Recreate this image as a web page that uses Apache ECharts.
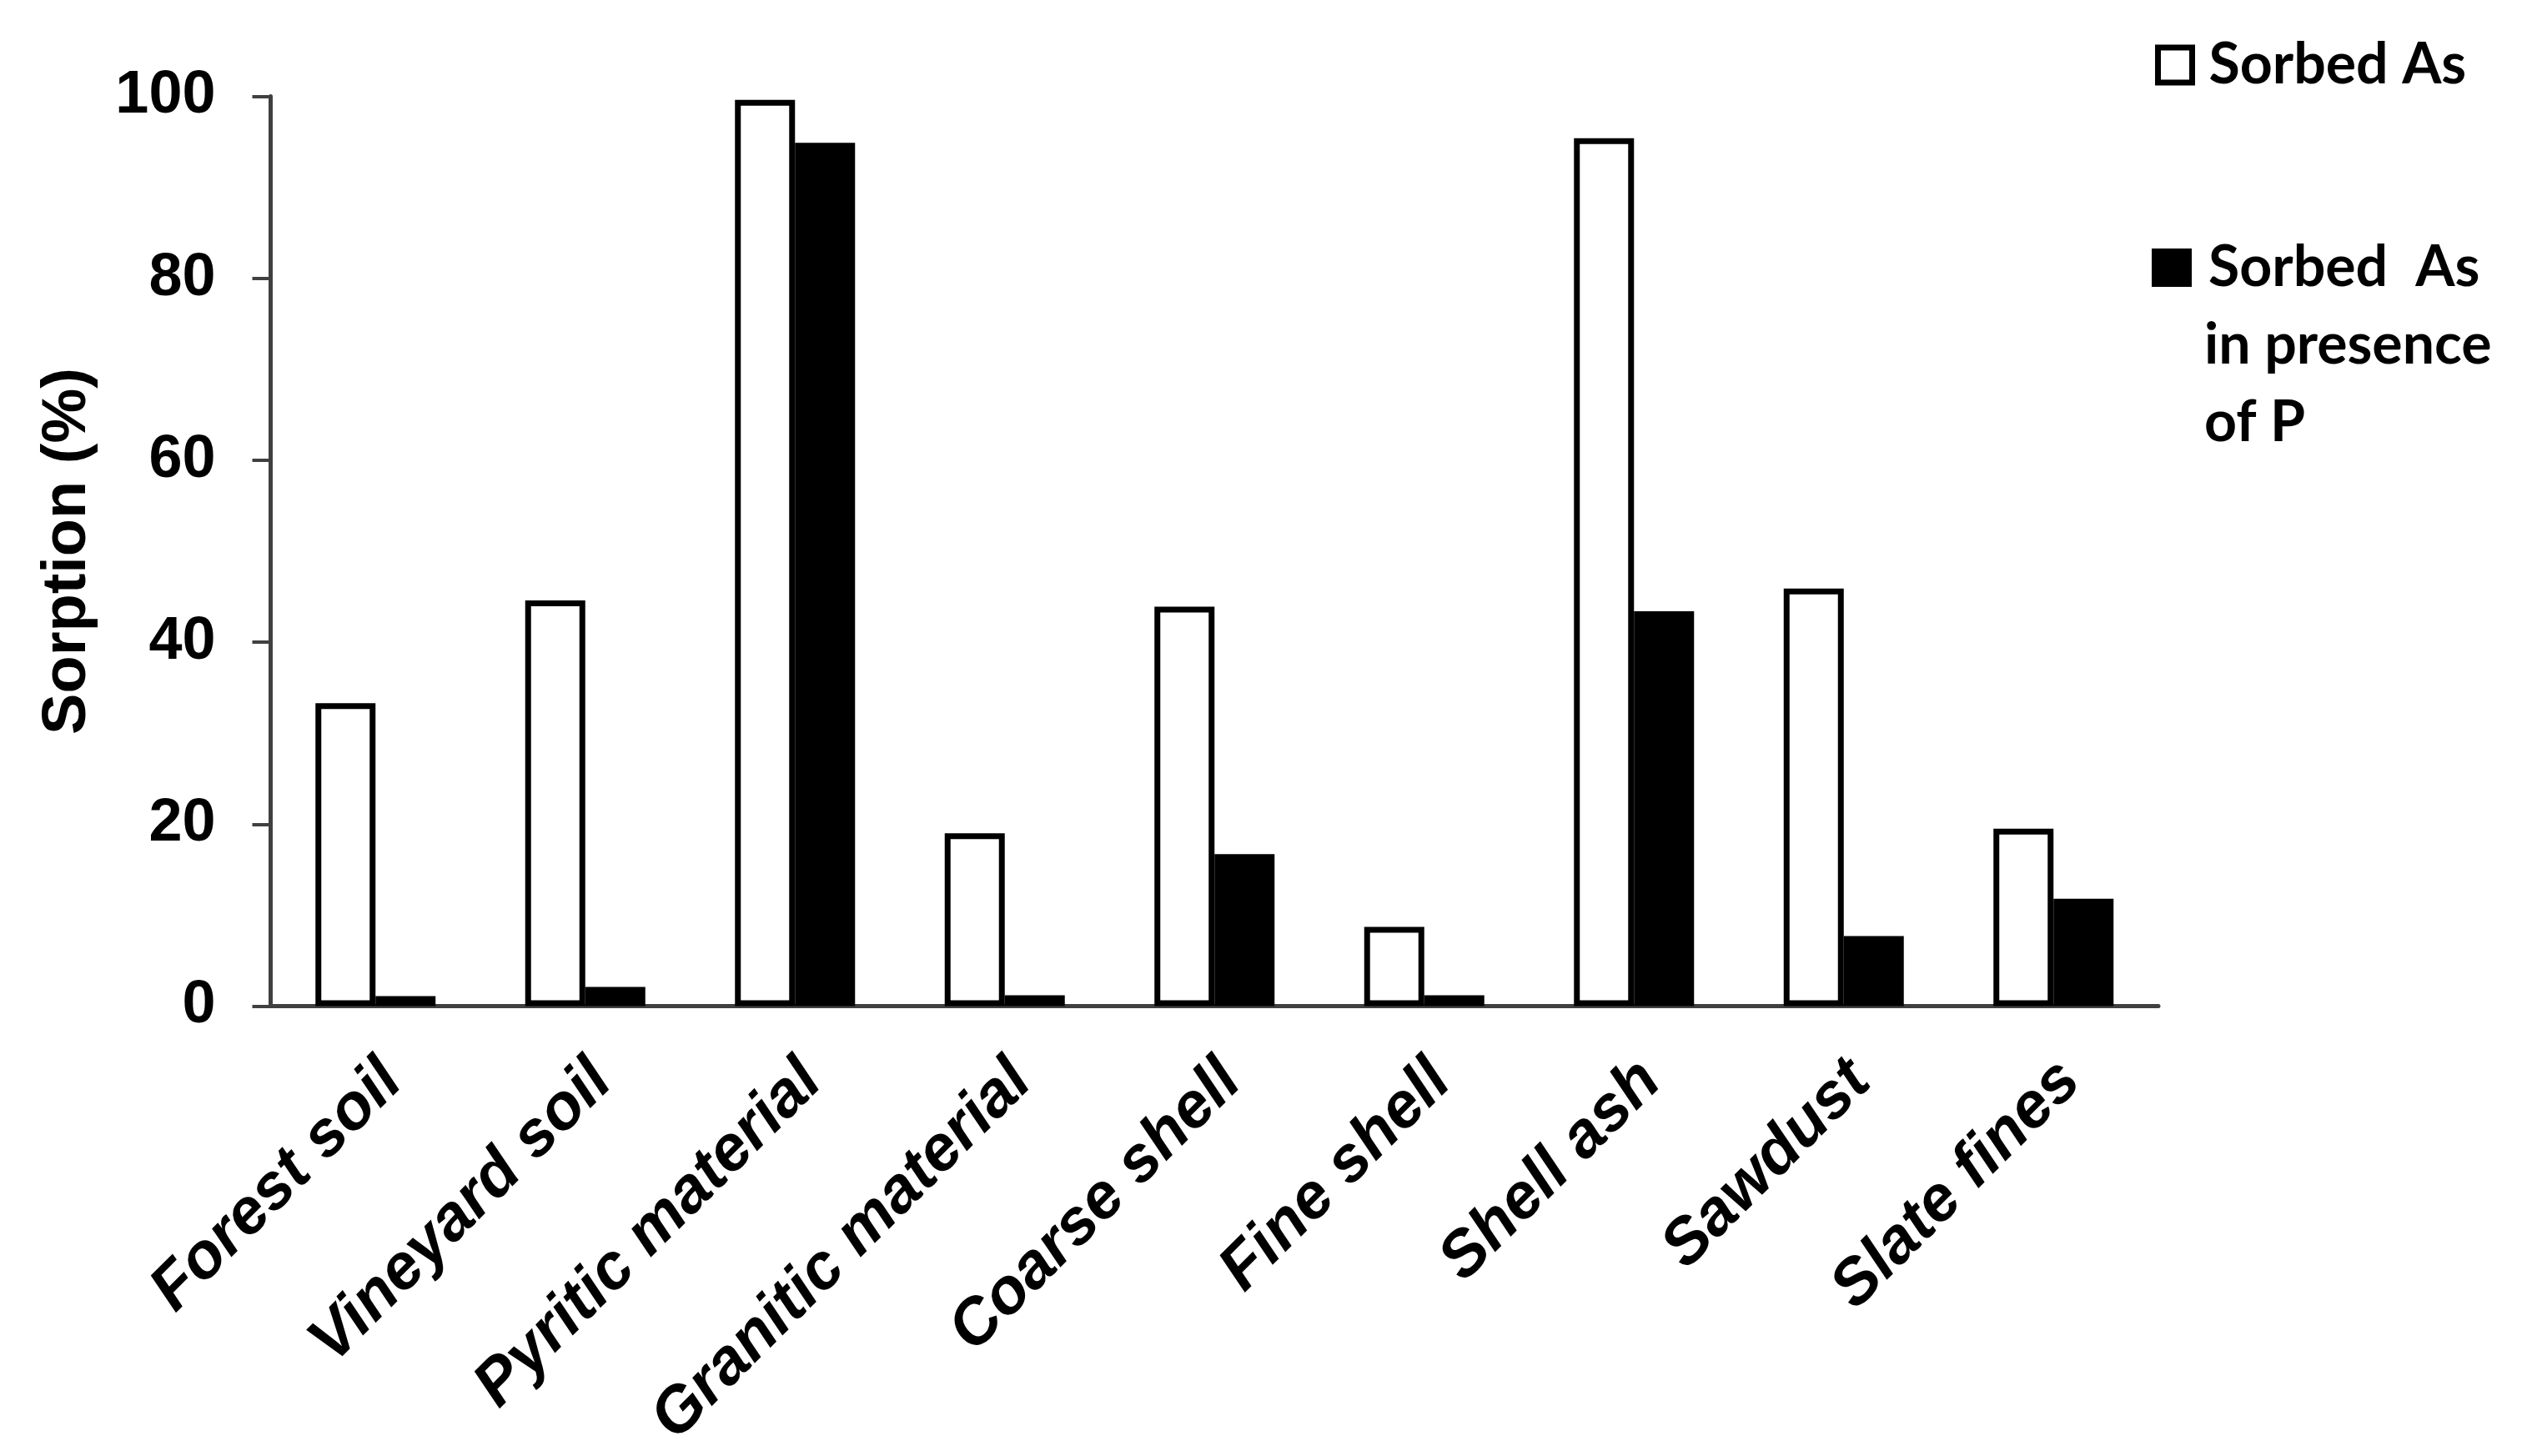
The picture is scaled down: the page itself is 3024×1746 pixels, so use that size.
<!DOCTYPE html>
<html>
<head>
<meta charset="utf-8">
<script src="https://cdn.jsdelivr.net/npm/echarts@6/dist/echarts.min.js"></script>
<style>
html,body{margin:0;padding:0;background:#fff;}
#chart{width:3024px;height:1746px;}
</style>
</head>
<body>
<div id="chart"></div>
<script>
const categories = ['Forest soil','Vineyard soil','Pyritic material','Granitic material','Coarse shell','Fine shell','Shell ash','Sawdust','Slate fines'];
const sorbedAs = [33.3, 44.6, 99.6, 19.0, 43.9, 8.7, 95.4, 45.9, 19.5];
const sorbedAsWithP = [1.1, 2.1, 94.9, 1.2, 16.7, 1.2, 43.4, 7.7, 11.8];
const yTicks = [0, 20, 40, 60, 80, 100];
const seriesNames = ['Sorbed As', 'Sorbed As in presence of P'];
const legendLines = ['Sorbed  As', 'in presence', 'of P'];

const chart = echarts.init(document.getElementById('chart'));
const axisFont = '"Liberation Sans", Arial, sans-serif';
const legendFont = 'Lato, "Open Sans", sans-serif';
const legendTextStyle = { fontFamily: legendFont, fontWeight: 'bold', fontSize: 68, color: '#000', padding: [0,0,0,15] };

chart.setOption({
  animation: false,
  backgroundColor: '#ffffff',
  grid: { left: 324.5, right: 436, top: 115.5, bottom: 539.5, containLabel: false },
  legend: [
    {
      data: [seriesNames[0]],
      left: 2584, top: 44, padding: 0,
      itemWidth: 41, itemHeight: 42,
      icon: 'rect',
      itemStyle: { color: '#ffffff', borderColor: '#000000', borderWidth: 7 },
      textStyle: legendTextStyle
    },
    {
      data: [seriesNames[1]],
      left: 2580, top: 287, padding: 0,
      itemWidth: 48, itemHeight: 46,
      icon: 'rect',
      itemStyle: { color: '#000000', borderWidth: 0 },
      formatter: function () { return legendLines[0]; },
      textStyle: legendTextStyle
    }
  ],
  graphic: [
    { type: 'text', left: 2643, top: 380, style: { text: legendLines[1], fontFamily: legendFont, fontWeight: 'bold', fontSize: 68, fill: '#000' } },
    { type: 'text', left: 2643, top: 473, style: { text: legendLines[2], fontFamily: legendFont, fontWeight: 'bold', fontSize: 68, fill: '#000' } }
  ],
  xAxis: {
    type: 'category',
    data: categories,
    axisLine: { lineStyle: { color: '#404040', width: 5 } },
    axisTick: { show: false },
    axisLabel: {
      interval: 0, rotate: 45, margin: 44,
      verticalAlign: 'top',
      padding: [0, 10, 0, 0],
      fontFamily: axisFont, fontWeight: 'bold', fontStyle: 'italic', fontSize: 77, color: '#000'
    }
  },
  yAxis: {
    type: 'value',
    min: 0, max: 100, interval: 20,
    name: 'Sorption (%)',
    nameLocation: 'middle',
    nameGap: 206,
    nameRotate: 90,
    nameTextStyle: { fontFamily: axisFont, fontWeight: 'bold', fontSize: 74, color: '#000' },
    axisLine: { show: true, lineStyle: { color: '#404040', width: 5 } },
    axisTick: { show: true, length: 22, lineStyle: { color: '#404040', width: 4 } },
    splitLine: { show: false },
    axisLabel: {
      margin: 66,
      fontFamily: axisFont, fontWeight: 'bold', fontSize: 72, color: '#000',
      formatter: function (v) { return yTicks.indexOf(v) >= 0 ? String(v) : ''; }
    }
  },
  series: [
    {
      name: seriesNames[0], type: 'bar', data: sorbedAs,
      barWidth: 72, barGap: '0%',
      itemStyle: { color: '#ffffff', borderColor: '#000000', borderWidth: 7 }
    },
    {
      name: seriesNames[1], type: 'bar', data: sorbedAsWithP,
      barWidth: 72, barGap: '0%',
      itemStyle: { color: '#000000' }
    }
  ]
});
</script>
</body>
</html>
